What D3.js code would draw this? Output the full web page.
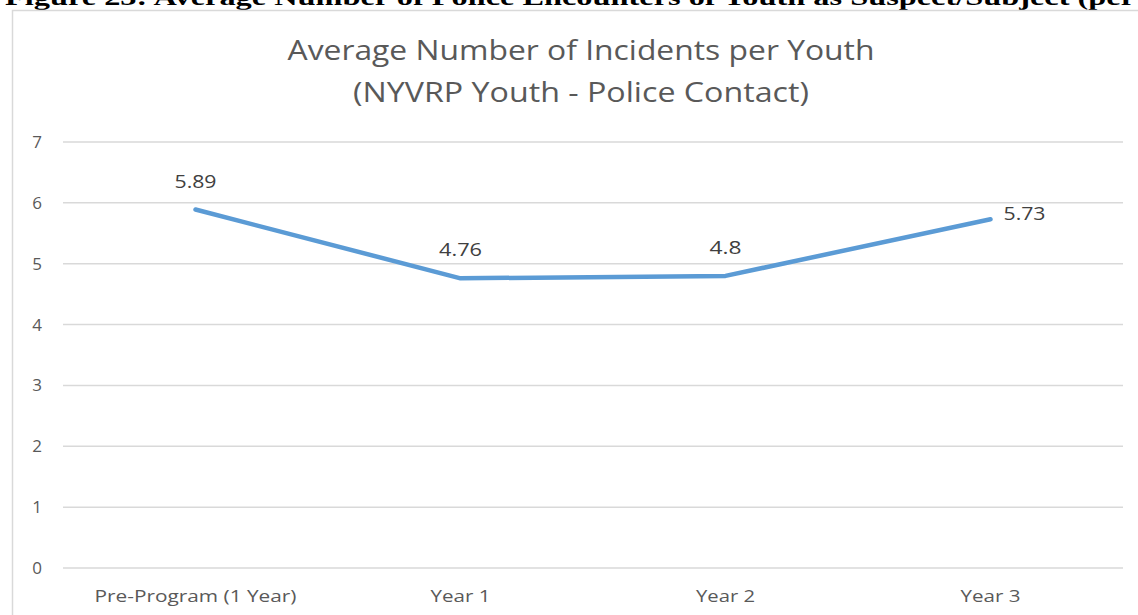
<!DOCTYPE html>
<html>
<head>
<meta charset="utf-8">
<script src="https://cdn.jsdelivr.net/npm/d3@7"></script>
<style>
  body { margin: 0; background: #fff; }
  svg { display: block; }
</style>
</head>
<body>
<svg id="chart" width="1138" height="615"></svg>
<script>
"use strict";

// values
const categories = ["Pre-Program (1 Year)", "Year 1", "Year 2", "Year 3"];
const incidents = [5.89, 4.76, 4.8, 5.73];
const valueLabels = ["5.89", "4.76", "4.8", "5.73"];
const yTicks = [0, 1, 2, 3, 4, 5, 6, 7];
const titleLines = ["Average Number of Incidents per Youth", "(NYVRP Youth - Police Contact)"];
const caption = "Figure 23: Average Number of Police Encounters of Youth as Suspect/Subject (per";

// widths measured on the reference, used to stretch the text to fit
const titleWidths = [587, 456];
const categoryWidths = [202, 60, 59, 60];
const labelWidths = [42, 43, 32, 42];

const svg = d3.select("#chart");
const font = "'Open Sans', sans-serif";
const textColor = "#595959";

// document caption, cut off at the top of the page
svg.append("text")
  .attr("x", 5).attr("y", 5)
  .attr("textLength", 1130)
  .attr("lengthAdjust", "spacingAndGlyphs")
  .style("font-family", "'Liberation Serif', 'Times New Roman', serif")
  .style("font-weight", "bold")
  .style("font-size", "24px")
  .attr("fill", "#000")
  .text(caption);

// chart frame (runs past the right and bottom edges)
svg.append("rect")
  .attr("x", 12.5).attr("y", 10.5)
  .attr("width", 1140).attr("height", 620)
  .attr("fill", "#fff")
  .attr("stroke", "#d9d9d9")
  .attr("stroke-width", 1.5);

const x = d3.scalePoint().domain(categories).range([63, 1123]).padding(0.5);
const y = d3.scaleLinear().domain([0, 7]).range([568, 142]);

// gridlines
svg.append("g")
  .selectAll("line")
  .data(yTicks)
  .join("line")
  .attr("x1", 63).attr("x2", 1123)
  .attr("y1", d => y(d)).attr("y2", d => y(d))
  .attr("stroke", "#d9d9d9")
  .attr("stroke-width", 1.5);

// y axis labels
svg.append("g")
  .selectAll("text")
  .data(yTicks)
  .join("text")
  .attr("x", 42)
  .attr("y", d => y(d))
  .attr("dy", "0.35em")
  .attr("text-anchor", "end")
  .style("font-family", font)
  .style("font-size", "17px")
  .attr("fill", textColor)
  .text(d => d);

// x axis labels
svg.append("g")
  .selectAll("text")
  .data(categories)
  .join("text")
  .attr("x", d => x(d))
  .attr("y", 602)
  .attr("text-anchor", "middle")
  .attr("textLength", (d, i) => categoryWidths[i])
  .attr("lengthAdjust", "spacingAndGlyphs")
  .style("font-family", font)
  .style("font-size", "17px")
  .attr("fill", textColor)
  .text(d => d);

// title
svg.append("g")
  .selectAll("text")
  .data(titleLines)
  .join("text")
  .attr("x", 581)
  .attr("y", (d, i) => 60 + i * 42)
  .attr("text-anchor", "middle")
  .attr("textLength", (d, i) => titleWidths[i])
  .attr("lengthAdjust", "spacingAndGlyphs")
  .style("font-family", font)
  .style("font-size", "27px")
  .attr("fill", textColor)
  .text(d => d);

// the line
const line = d3.line()
  .x((d, i) => x(categories[i]))
  .y(d => y(d));

svg.append("path")
  .datum(incidents)
  .attr("d", line)
  .attr("fill", "none")
  .attr("stroke", "#5b9bd5")
  .attr("stroke-width", 4.5)
  .attr("stroke-linejoin", "round")
  .attr("stroke-linecap", "round");

// data labels: last one sits to the right of its point, the others above
const last = incidents.length - 1;
svg.append("g")
  .selectAll("text")
  .data(incidents)
  .join("text")
  .attr("x", (d, i) => i === last ? x(categories[i]) + 13 : x(categories[i]))
  .attr("y", (d, i) => i === last ? y(d) + 1 : y(d) - 22)
  .attr("text-anchor", (d, i) => i === last ? "start" : "middle")
  .attr("textLength", (d, i) => labelWidths[i])
  .attr("lengthAdjust", "spacingAndGlyphs")
  .style("font-family", font)
  .style("font-size", "18px")
  .attr("fill", "#404040")
  .text((d, i) => valueLabels[i]);
</script>
</body>
</html>
